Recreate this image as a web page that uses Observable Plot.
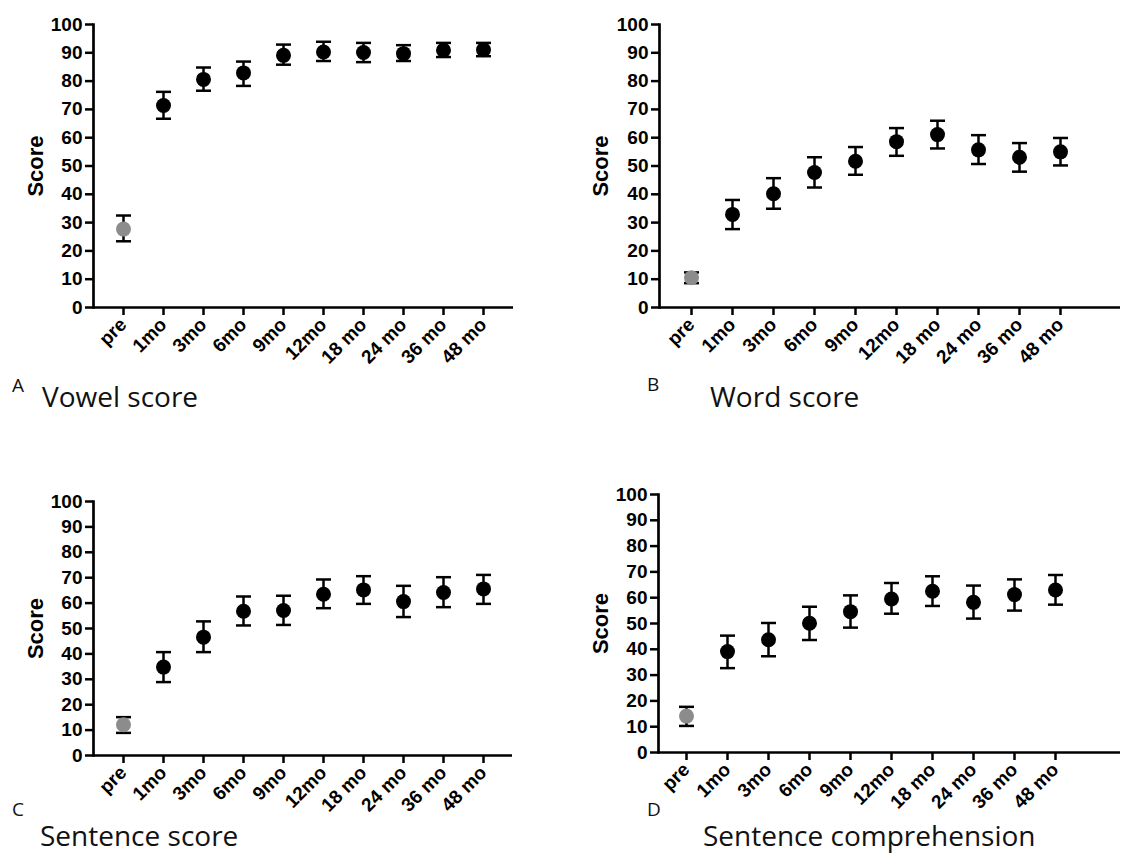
<!DOCTYPE html>
<html><head><meta charset="utf-8">
<script src="https://cdn.jsdelivr.net/npm/d3@7"></script>
<script src="https://cdn.jsdelivr.net/npm/@observablehq/plot@0.6"></script>
<style>
body{margin:0;background:#fff}
#wrap{position:relative;width:1126px;height:855px;overflow:hidden;background:#fff}
#wrap svg{position:absolute}
</style></head><body><div id="wrap"></div>
<script>
// ---- data ----
const timepoints = ["pre","1mo","3mo","6mo","9mo","12mo","18 mo","24 mo","36 mo","48 mo"];
const yTicks = [0,10,20,30,40,50,60,70,80,90,100];

const vowelMean = [27.7, 71.4, 80.6, 82.9, 89.1, 90.3, 90.1, 89.7, 90.9, 91.1];
const vowelLo   = [23.4, 66.7, 76.6, 78.3, 85.8, 87.1, 86.7, 87.1, 88.5, 88.8];
const vowelHi   = [32.5, 76.2, 84.8, 86.9, 92.9, 93.9, 93.5, 92.7, 93.5, 93.5];

const wordMean = [10.5, 32.9, 40.2, 47.7, 51.7, 58.6, 61.1, 55.7, 53.1, 55.0];
const wordLo   = [8.6, 27.7, 34.9, 42.4, 46.9, 53.6, 56.2, 50.7, 48.0, 50.2];
const wordHi   = [12.4, 38.0, 45.7, 53.1, 56.7, 63.4, 66.0, 60.9, 58.1, 59.9];

const sentMean = [12.1, 34.8, 46.6, 56.8, 57.1, 63.5, 65.2, 60.6, 64.2, 65.6];
const sentLo   = [8.9, 28.9, 40.7, 51.2, 51.4, 58.0, 59.7, 54.5, 58.4, 59.7];
const sentHi   = [15.1, 40.7, 52.8, 62.6, 62.9, 69.3, 70.6, 66.8, 70.2, 71.1];

const compMean = [14.1, 39.1, 43.7, 50.1, 54.6, 59.5, 62.5, 58.2, 61.2, 63.0];
const compLo   = [10.3, 32.7, 37.3, 43.6, 48.4, 53.8, 56.8, 51.9, 55.0, 57.3];
const compHi   = [17.7, 45.3, 50.2, 56.5, 60.9, 65.7, 68.3, 64.7, 67.1, 68.8];

const panelLetters = ["A","B","C","D"];
const panelTitles = ["Vowel score","Word score","Sentence score","Sentence comprehension"];
const yLabel = "Score";

// ---- layout (pixels) ----
const layout = [
  {left:0,   top:0,   width:560, height:380, axisX:93,  xFirst:120, xLast:485,  axisEnd:513,  y100:24,  y0:307, scoreX:35,
   letter:[12,392], title:[42,407]},
  {left:560, top:0,   width:566, height:380, axisX:659, xFirst:688, xLast:1063, axisEnd:1120, y100:24,  y0:307, scoreX:600,
   letter:[647,391], title:[710,407]},
  {left:0,   top:420, width:560, height:395, axisX:93,  xFirst:121, xLast:485,  axisEnd:512,  y100:501, y0:755, scoreX:35,
   letter:[12,816], title:[40,846]},
  {left:560, top:420, width:566, height:395, axisX:658, xFirst:685, xLast:1056, axisEnd:1120, y100:494, y0:752, scoreX:600,
   letter:[647,816], title:[703,846]}
];

const series = [
  [vowelMean, vowelLo, vowelHi],
  [wordMean, wordLo, wordHi],
  [sentMean, sentLo, sentHi],
  [compMean, compLo, compHi]
];

const cap = {draw(ctx){ ctx.moveTo(-7.5,0); ctx.lineTo(7.5,0); }};
const wrap = document.getElementById("wrap");

series.forEach(([mean, lo, hi], k) => {
  const L = layout[k];
  const rows = timepoints.map((t,i) => ({t, mean: mean[i], lo: lo[i], hi: hi[i]}));
  const plot = Plot.plot({
    width: L.width, height: L.height,
    marginLeft: L.axisX - L.left,
    marginRight: L.left + L.width - L.axisEnd,
    marginTop: L.y100 - L.top,
    marginBottom: L.top + L.height - L.y0,
    style: {fontFamily: "'Liberation Sans', Arial, sans-serif", fontWeight: "bold", fontSize: "19px", color: "#000", background: "transparent", overflow: "visible"},
    x: {type: "point", domain: timepoints, padding: 0, range: [L.xFirst - L.left, L.xLast - L.left]},
    y: {domain: [0, 100]},
    marks: [
      Plot.axisY({ticks: yTicks, tickSize: 8, tickPadding: 3, strokeWidth: 2.5, label: null}),
      Plot.axisX({tickSize: 8, tickPadding: 6, tickRotate: -45, strokeWidth: 2.5, label: null}),
      Plot.frame({anchor: "left", strokeWidth: 2.7, stroke: "#000"}),
      Plot.ruleY([0], {strokeWidth: 2.7, stroke: "#000"}),
      Plot.ruleX(rows, {x: "t", y1: "lo", y2: "hi", strokeWidth: 2.5, stroke: "#000"}),
      Plot.dot(rows, {x: "t", y: "lo", symbol: cap, fill: "none", stroke: "#000", strokeWidth: 2.5}),
      Plot.dot(rows, {x: "t", y: "hi", symbol: cap, fill: "none", stroke: "#000", strokeWidth: 2.5}),
      Plot.dot(rows, {filter: d => d.t !== "pre", x: "t", y: "mean", r: 7.5, fill: "#000", stroke: "none"}),
      Plot.dot(rows, {filter: d => d.t === "pre", x: "t", y: "mean", r: 7.5, fill: "#8c8c8c", stroke: "none"}),
      Plot.text([yLabel], {frameAnchor: "left", text: d => d, rotate: -90, textAnchor: "middle", dx: L.scoreX - L.axisX, fontSize: 22, fontWeight: "bold", fill: "#000"})
    ]
  });
  plot.style.left = L.left + "px";
  plot.style.top = L.top + "px";
  wrap.appendChild(plot);
});

// captions
const ov = d3.select(wrap).append("svg")
  .attr("width", 1126).attr("height", 855)
  .style("left", "0px").style("top", "0px").style("pointer-events", "none");
layout.forEach((L, k) => {
  ov.append("text").attr("x", L.letter[0]).attr("y", L.letter[1])
    .attr("font-family", "'Open Sans', sans-serif").attr("font-size", 19).attr("fill", "#111")
    .text(panelLetters[k]);
  ov.append("text").attr("x", L.title[0]).attr("y", L.title[1])
    .attr("font-family", "'Open Sans', sans-serif").attr("font-size", 28).attr("fill", "#111")
    .text(panelTitles[k]);
});
</script></body></html>
